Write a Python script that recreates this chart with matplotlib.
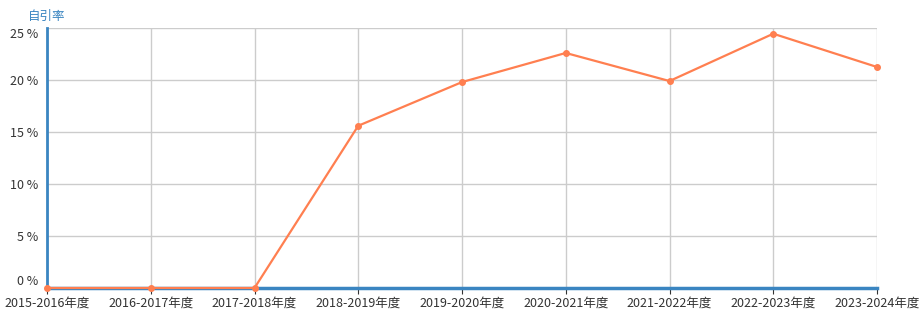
import matplotlib
matplotlib.use("Agg")
import matplotlib.pyplot as plt

plt.rcParams['font.family'] = ['Noto Sans CJK SC', 'DejaVu Sans']

years = ['2015-2016年度', '2016-2017年度', '2017-2018年度', '2018-2019年度',
         '2019-2020年度', '2020-2021年度', '2021-2022年度', '2022-2023年度',
         '2023-2024年度']
self_cite = [0, 0, 0, 15.6, 19.8, 22.6, 19.9, 24.45, 21.25]
yticks = [0, 5, 10, 15, 20, 25]

W, H = 921, 329
fig = plt.figure(figsize=(W / 100, H / 100), dpi=100)
ax = fig.add_axes([47 / W, (H - 288) / H, (877 - 47) / W, (288 - 28) / H])

x = list(range(len(years)))
ax.plot(x, self_cite, color='#FF7F50', lw=1.6, marker='o', ms=4, zorder=5,
        clip_on=False)

ax.set_xlim(0, len(years) - 1)
ax.set_ylim(0, 25)
ax.set_xticks(x)
ax.set_xticklabels(years, fontsize=9, color='#333333')
ax.set_yticks(yticks)
ax.set_yticklabels([f'{v} %' for v in yticks], fontsize=9, color='#333333')
# first label sits above its line, last one below, as in the original
labs = ax.get_yticklabels()
labs[0].set_va('bottom')
labs[-1].set_va('top')
ax.grid(True, color='#cccccc', lw=1)
ax.set_axisbelow(True)

for s in ['top', 'right']:
    ax.spines[s].set_visible(False)
ax.spines['left'].set_color('#3a85c1')
ax.spines['left'].set_linewidth(2)
ax.spines['bottom'].set_color('#3a85c1')
ax.spines['bottom'].set_linewidth(2.5)
ax.tick_params(axis='y', length=0, pad=6)
ax.tick_params(axis='x', length=4, color='#333333', pad=2)

fig.text(47 / W, (H - 16) / H, '自引率', color='#3a85c1', fontsize=9,
         ha='center', va='center')

fig.savefig('out.png', dpi=100)
